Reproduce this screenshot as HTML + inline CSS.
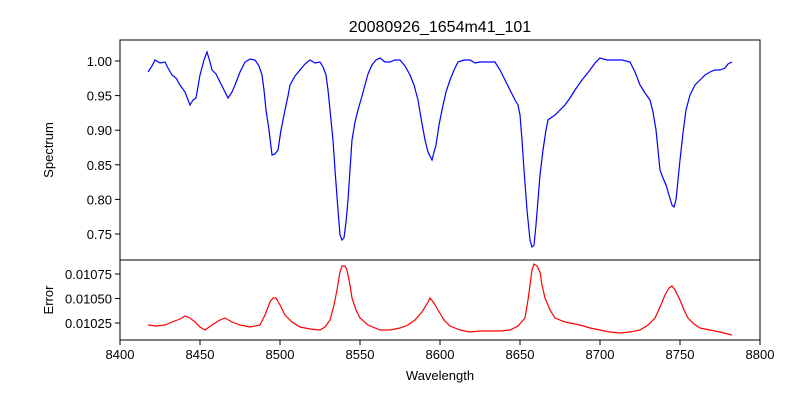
<!DOCTYPE html>
<html><head><meta charset="utf-8"><style>body{margin:0;background:#fff}svg{display:block}text{font-family:"Liberation Sans","DejaVu Sans",sans-serif;font-size:13px;fill:#000}</style></head>
<body>
<svg width="800" height="400" viewBox="0 0 800 400">
<rect width="800" height="400" fill="#fff"/>
<text x="440" y="32" text-anchor="middle" font-size="16" style="font-size:16px">20080926_1654m41_101</text>
<rect x="120" y="40" width="640" height="220" fill="none" stroke="#000" stroke-width="1"/>
<rect x="120" y="260" width="640" height="80" fill="none" stroke="#000" stroke-width="1"/>
<polyline fill="none" stroke="#0000ff" stroke-width="1.2" points="148,72 152,66 155,60 160,63 165,62 168,68 172,75 176,78 180,85 185,92 190,105 193,100 196,98 200,75 204,60 207,52 210,62 212,70 216,74 220,82 224,90 228,98 232,92 235,85 240,72 245,62 250,59 255,60 259,66 262,75 264,90 266,110 269,130 272,155 275,154 278,150 281,130 285,110 288,96 290,85 295,76 300,70 305,64 310,60 315,63 320,62 323,67 326,75 328,90 330,110 333,140 335,170 338,210 340,235 342,240 344,238 346,222 348,200 350,170 352,140 355,122 358,110 362,96 365,85 368,74 372,65 376,60 380,58 385,62 390,62 395,60 400,60 405,66 410,75 414,85 418,100 421,118 425,140 428,152 432,160 434,152 436,145 439,125 442,110 446,92 450,80 454,70 458,62 464,60 470,60 475,63 480,62 487,62 495,62 500,70 505,80 510,90 515,100 518,105 520,115 522,140 524,170 527,210 530,240 532,247 534,245 536,225 538,200 540,175 543,150 546,130 548,120 552,117 555,115 560,110 565,105 570,98 575,90 582,80 590,70 595,63 600,58 607,60 615,60 622,60 630,62 635,72 640,85 645,93 650,100 653,112 656,130 658,150 660,170 663,178 666,185 669,195 672,205 674,207 676,200 678,180 680,160 683,133 686,110 690,95 695,85 700,80 705,75 710,72 715,70 720,70 725,68 728,64 732,62"/>
<polyline fill="none" stroke="#ff0000" stroke-width="1.2" points="148,325 156,326 165,325 172,322 180,319 185,316 190,318 195,322 200,327 205,330 212,325 220,320 225,318 232,322 240,325 250,327 260,325 265,315 270,302 273,298 276,298 280,305 285,315 292,322 300,327 310,329 320,330 325,327 330,320 334,305 337,290 340,272 342,266 345,266 347,270 350,285 352,298 356,310 360,318 368,325 380,330 390,330 400,328 408,325 415,320 422,312 428,302 430,298 434,303 438,310 444,320 450,326 460,330 470,332 480,331 490,331 500,331 510,330 518,326 525,318 528,300 530,285 532,270 534,264 537,266 540,272 542,285 545,298 550,310 555,318 565,322 580,325 590,328 600,330 610,332 620,333 630,332 640,330 648,325 655,318 660,307 665,295 669,288 672,286 675,290 680,300 684,310 688,318 694,324 700,328 710,330 720,332 732,335"/>
<g stroke="#000" stroke-width="1">
<line x1="120" y1="340" x2="120" y2="345"/><line x1="200" y1="340" x2="200" y2="345"/><line x1="280" y1="340" x2="280" y2="345"/><line x1="360" y1="340" x2="360" y2="345"/><line x1="440" y1="340" x2="440" y2="345"/><line x1="520" y1="340" x2="520" y2="345"/><line x1="600" y1="340" x2="600" y2="345"/><line x1="680" y1="340" x2="680" y2="345"/><line x1="760" y1="340" x2="760" y2="345"/>
<line x1="115" y1="61" x2="120" y2="61"/><line x1="115" y1="95.6" x2="120" y2="95.6"/><line x1="115" y1="130.2" x2="120" y2="130.2"/><line x1="115" y1="164.8" x2="120" y2="164.8"/><line x1="115" y1="199.4" x2="120" y2="199.4"/><line x1="115" y1="234" x2="120" y2="234"/>
<line x1="115" y1="274" x2="120" y2="274"/><line x1="115" y1="298.5" x2="120" y2="298.5"/><line x1="115" y1="323" x2="120" y2="323"/>
</g>
<g text-anchor="middle">
<text x="120" y="359">8400</text><text x="200" y="359">8450</text><text x="280" y="359">8500</text><text x="360" y="359">8550</text><text x="440" y="359">8600</text><text x="520" y="359">8650</text><text x="600" y="359">8700</text><text x="680" y="359">8750</text><text x="760" y="359">8800</text>
<text x="440" y="380">Wavelength</text>
</g>
<g text-anchor="end">
<text x="112" y="66">1.00</text><text x="112" y="100.6">0.95</text><text x="112" y="135.2">0.90</text><text x="112" y="169.8">0.85</text><text x="112" y="204.4">0.80</text><text x="112" y="239">0.75</text>
<text x="112" y="279">0.01075</text><text x="112" y="303.5">0.01050</text><text x="112" y="328">0.01025</text>
</g>
<text transform="translate(53,150) rotate(-90)" text-anchor="middle">Spectrum</text>
<text transform="translate(53,300) rotate(-90)" text-anchor="middle">Error</text>
</svg>
</body></html>
